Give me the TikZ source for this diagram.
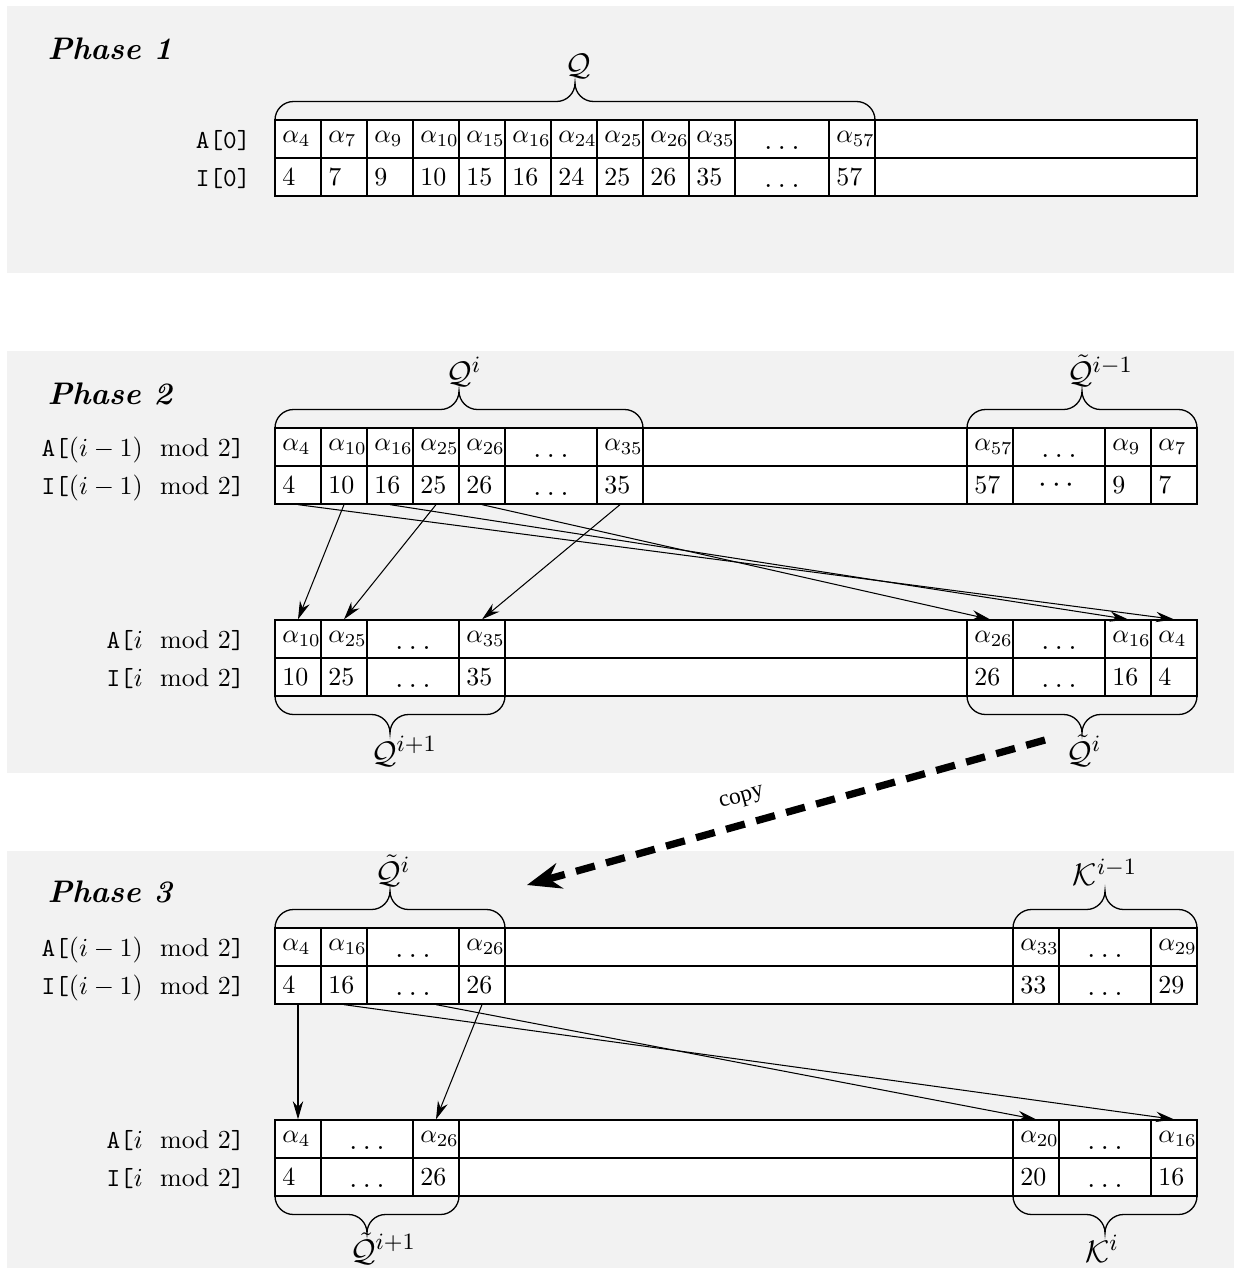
\documentclass[tikz,border=0pt]{standalone}
\usepackage{amsmath}
\usepackage{fontspec}
\newfontfamily\copyfont{Liberation Serif}
\usetikzlibrary{arrows.meta}
\definecolor{panelgray}{HTML}{F2F2F2}
\def\pxu{0.385}
\newcommand\dotcell{\hfill\raisebox{-4pt}[0pt][0pt]{\large$\ldots$}\hfill}
\newcommand\cdotcell{\hfill\raisebox{-3pt}[0pt][0pt]{\large$\cdots$}\hfill}
\newcommand\mycell[5]{%
  \pgfmathsetlengthmacro\cellw{(#3-#2)*\pxu}%
  \pgfmathsetlengthmacro\celltw{(#3-#2)*\pxu-5.6}%
  \node[cell,minimum width=\cellw] (#1) at ({(#2+#3)/2},{#4+19}) {\makebox[\celltw][l]{#5}};%
}
\def\br{18.5}
\newcommand\cbrace[5]{%
  \draw[bracel] (#1,#4) .. controls (#1,{#4+(#5)*0.552*\br}) and ({#1+0.448*\br},{#4+(#5)*\br}) .. ({#1+\br},{#4+(#5)*\br})
   -- ({#3-\br},{#4+(#5)*\br}) .. controls ({#3-0.448*\br},{#4+(#5)*\br}) and (#3,{#4+(#5)*1.448*\br}) .. (#3,{#4+(#5)*2*\br})
   .. controls (#3,{#4+(#5)*1.448*\br}) and ({#3+0.448*\br},{#4+(#5)*\br}) .. ({#3+\br},{#4+(#5)*\br})
   -- ({#2-\br},{#4+(#5)*\br}) .. controls ({#2-0.448*\br},{#4+(#5)*\br}) and (#2,{#4+(#5)*0.552*\br}) .. (#2,#4);%
}
\newcommand\modtwo{\mkern12mu\mathrm{mod}\,\,2}
\begin{document}
\begin{tikzpicture}[x=\pxu pt,y=-\pxu pt,
  cell/.style={draw=black,line width=0.5pt,fill=white,inner xsep=2.8pt,inner ysep=0pt,minimum height={38*\pxu pt},anchor=center},
  rowlab/.style={anchor=base east,inner sep=0pt},
  phase/.style={anchor=base west,inner sep=0pt,font=\large\bfseries\itshape},
  blab/.style={inner sep=0pt,font=\fontsize{13}{15}\selectfont},
  bracel/.style={line width=0.5pt},
  arr/.style={-{Stealth[length=7pt,width=4pt]},line width=0.4pt},
  copyarr/.style={-{Stealth[length=13pt,width=10pt]},line width=2.8pt,dash pattern=on 7.5pt off 4.5pt},
  copylab/.style={font=\copyfont\small,rotate=15.6,inner sep=0pt}]
\useasboundingbox (0,0) rectangle (1234,1268);
\fill[panelgray] (7,6) rectangle (1234,273);
\fill[panelgray] (7,351) rectangle (1234,773);
\fill[panelgray] (7,851) rectangle (1234,1268);

% phase titles
\node[phase] (ph1) at (47,59) {Phase 1};
\node[phase] (ph2) at (47,404) {Phase 2};
\node[phase] (ph3) at (47,902) {Phase 3};

% row labels
\node[rowlab] (l1a) at (251,148) {\texttt{A[0]}};
\node[rowlab] (l1i) at (251,186) {\texttt{I[0]}};
\node[rowlab] (l2ua) at (245,456) {\texttt{A[}$(i-1)\modtwo$\texttt{]}};
\node[rowlab] (l2ui) at (245,494) {\texttt{I[}$(i-1)\modtwo$\texttt{]}};
\node[rowlab] (l2la) at (245,648) {\texttt{A[}$i\modtwo$\texttt{]}};
\node[rowlab] (l2li) at (245,686) {\texttt{I[}$i\modtwo$\texttt{]}};
\node[rowlab] (l3ua) at (245,956) {\texttt{A[}$(i-1)\modtwo$\texttt{]}};
\node[rowlab] (l3ui) at (245,994) {\texttt{I[}$(i-1)\modtwo$\texttt{]}};
\node[rowlab] (l3la) at (245,1148) {\texttt{A[}$i\modtwo$\texttt{]}};
\node[rowlab] (l3li) at (245,1186) {\texttt{I[}$i\modtwo$\texttt{]}};

% phase 1 table
\foreach \xa/\xb/\ca/\ci [count=\k] in {275/321/{$\alpha_{4}$}/4, 321/367/{$\alpha_{7}$}/7, 367/413/{$\alpha_{9}$}/9, 413/459/{$\alpha_{10}$}/10, 459/505/{$\alpha_{15}$}/15, 505/551/{$\alpha_{16}$}/16, 551/597/{$\alpha_{24}$}/24, 597/643/{$\alpha_{25}$}/25, 643/689/{$\alpha_{26}$}/26, 689/735/{$\alpha_{35}$}/35, 735/829/\dotcell/\dotcell, 829/875/{$\alpha_{57}$}/57, 875/1197/{}/{}}
  {\mycell{p1a\k}{\xa}{\xb}{120}{\ca}\mycell{p1i\k}{\xa}{\xb}{158}{\ci}}

% phase 2 upper table
\foreach \xa/\xb/\ca/\ci [count=\k] in {275/321/{$\alpha_{4}$}/4, 321/367/{$\alpha_{10}$}/10, 367/413/{$\alpha_{16}$}/16, 413/459/{$\alpha_{25}$}/25, 459/505/{$\alpha_{26}$}/26, 505/597/\dotcell/\dotcell, 597/643/{$\alpha_{35}$}/35, 643/967/{}/{}, 967/1013/{$\alpha_{57}$}/57, 1013/1105/\dotcell/\cdotcell, 1105/1151/{$\alpha_{9}$}/9, 1151/1197/{$\alpha_{7}$}/7}
  {\mycell{p2ua\k}{\xa}{\xb}{428}{\ca}\mycell{p2ui\k}{\xa}{\xb}{466}{\ci}}

% phase 2 lower table
\foreach \xa/\xb/\ca/\ci [count=\k] in {275/321/{$\alpha_{10}$}/10, 321/367/{$\alpha_{25}$}/25, 367/459/\dotcell/\dotcell, 459/505/{$\alpha_{35}$}/35, 505/967/{}/{}, 967/1013/{$\alpha_{26}$}/26, 1013/1105/\dotcell/\dotcell, 1105/1151/{$\alpha_{16}$}/16, 1151/1197/{$\alpha_{4}$}/4}
  {\mycell{p2la\k}{\xa}{\xb}{620}{\ca}\mycell{p2li\k}{\xa}{\xb}{658}{\ci}}

% phase 3 upper table
\foreach \xa/\xb/\ca/\ci [count=\k] in {275/321/{$\alpha_{4}$}/4, 321/367/{$\alpha_{16}$}/16, 367/459/\dotcell/\dotcell, 459/505/{$\alpha_{26}$}/26, 505/1013/{}/{}, 1013/1059/{$\alpha_{33}$}/33, 1059/1151/\dotcell/\dotcell, 1151/1197/{$\alpha_{29}$}/29}
  {\mycell{p3ua\k}{\xa}{\xb}{928}{\ca}\mycell{p3ui\k}{\xa}{\xb}{966}{\ci}}

% phase 3 lower table
\foreach \xa/\xb/\ca/\ci [count=\k] in {275/321/{$\alpha_{4}$}/4, 321/413/\dotcell/\dotcell, 413/459/{$\alpha_{26}$}/26, 459/1013/{}/{}, 1013/1059/{$\alpha_{20}$}/20, 1059/1151/\dotcell/\dotcell, 1151/1197/{$\alpha_{16}$}/16}
  {\mycell{p3la\k}{\xa}{\xb}{1120}{\ca}\mycell{p3li\k}{\xa}{\xb}{1158}{\ci}}

% braces
\cbrace{275}{875}{575}{120}{-1}
\cbrace{275}{643}{459}{428}{-1}
\cbrace{967}{1197}{1082}{428}{-1}
\cbrace{275}{505}{390}{696}{1}
\cbrace{967}{1197}{1082}{696}{1}
\cbrace{275}{505}{390}{928}{-1}
\cbrace{1013}{1197}{1105}{928}{-1}
\cbrace{275}{459}{367}{1196}{1}
\cbrace{1013}{1197}{1105}{1196}{1}

% brace labels
\node[blab,anchor=south] (bq1) at (578,79) {$\mathcal{Q}$};
\node[blab,anchor=south] (bq2) at (464,387) {$\mathcal{Q}^{i}$};
\node[blab,anchor=south] (bq3) at (1100,387) {$\tilde{\mathcal{Q}}^{i-1}$};
\node[blab,anchor=north] (bq4) at (404,736) {$\mathcal{Q}^{i+1}$};
\node[blab,anchor=north] (bq5) at (1084,734) {$\tilde{\mathcal{Q}}^{i}$};
\node[blab,anchor=south] (bq6) at (393,887) {$\tilde{\mathcal{Q}}^{i}$};
\node[blab,anchor=south] (bq7) at (1105,886) {$\mathcal{K}^{i-1}$};
\node[blab,anchor=north] (bq8) at (383,1232) {$\tilde{\mathcal{Q}}^{i+1}$};
\node[blab,anchor=north] (bq9) at (1102,1235) {$\mathcal{K}^{i}$};

% phase 2 arrows
\draw[arr] (p2ui1.south) -- (p2la9.north);
\draw[arr] (p2ui2.south) -- (p2la1.north);
\draw[arr] (p2ui3.south) -- (p2la8.north);
\draw[arr] (p2ui4.south) -- (p2la2.north);
\draw[arr] (p2ui5.south) -- (p2la6.north);
\draw[arr] (p2ui7.south) -- (p2la4.north);

% phase 3 arrows
\draw[arr] (p3ui1.south) -- (p3la1.north);
\draw[arr] (p3ui2.south) -- (p3la7.north);
\draw[arr] ([xshift=8.9pt]p3ui3.south) -- (p3la5.north);
\draw[arr] (p3ui4.south) -- (p3la3.north);

% copy arrow
\coordinate (cs) at (1045,740);
\coordinate (ce) at (527,885);
\draw[copyarr] (cs) -- (ce);
\node[copylab] (cp) at (742,799) {copy};
\end{tikzpicture}
\end{document}
